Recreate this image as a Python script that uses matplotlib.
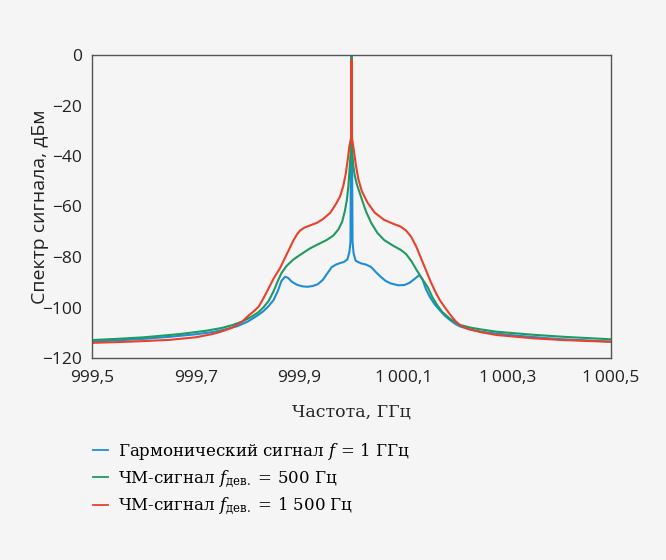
import matplotlib
matplotlib.use("Agg")
import matplotlib.pyplot as plt
from matplotlib.ticker import FixedLocator, FixedFormatter

# ---- data ----
blue_x = [999.50, 999.55, 999.60, 999.65, 999.70, 999.73, 999.75, 999.78, 999.80, 999.82,
          999.83, 999.84, 999.85, 999.858, 999.865, 999.872, 999.878, 999.885, 999.895, 999.905,
          999.915, 999.925, 999.935, 999.945, 999.955, 999.962, 999.97, 999.978, 999.985, 999.992,
          999.996, 999.998, 1000.000, 1000.002, 1000.004, 1000.008, 1000.018, 1000.028, 1000.038,
          1000.047, 1000.057, 1000.066, 1000.076, 1000.09, 1000.102, 1000.112, 1000.122, 1000.131,
          1000.137, 1000.143, 1000.15, 1000.16, 1000.171, 1000.18, 1000.19, 1000.20, 1000.209,
          1000.23, 1000.25, 1000.30, 1000.35, 1000.40, 1000.45, 1000.50]
blue_y = [-113.5, -113.0, -112.4, -111.6, -110.6, -109.8, -109.0, -107.4, -105.6, -103.0,
          -101.5, -99.5, -97.0, -93.5, -89.5, -87.8, -88.3, -89.8, -91.0, -91.6,
          -91.8, -91.5, -90.8, -89.0, -86.0, -84.0, -83.0, -82.4, -82.0, -81.0,
          -78.0, -74.0, 0.0, -74.0, -78.5, -81.5, -82.5, -83.0, -84.0,
          -86.0, -88.0, -89.5, -90.5, -91.2, -91.1, -90.2, -88.6, -87.1,
          -89.0, -92.5, -95.5, -98.7, -101.3, -103.3, -105.0, -106.5, -107.5,
          -108.8, -109.6, -110.8, -111.7, -112.5, -113.0, -113.5]

green_x = [999.50, 999.55, 999.60, 999.67, 999.72, 999.75, 999.77, 999.79, 999.80, 999.81,
           999.82, 999.83, 999.84, 999.85, 999.858, 999.865, 999.875, 999.888, 999.90, 999.92,
           999.935, 999.952, 999.965, 999.975, 999.982, 999.987, 999.991, 999.994, 999.996,
           999.998, 999.999, 1000.000, 1000.001, 1000.003, 1000.006, 1000.010, 1000.018,
           1000.028, 1000.038, 1000.050, 1000.063, 1000.080, 1000.095, 1000.105, 1000.115,
           1000.125, 1000.135, 1000.147, 1000.156, 1000.165, 1000.175, 1000.19, 1000.209,
           1000.23, 1000.25, 1000.28, 1000.35, 1000.408, 1000.50]
green_y = [-112.9, -112.4, -111.8, -110.5, -109.2, -108.1, -107.0, -105.5, -104.5, -103.3,
           -102.0, -100.0, -97.5, -93.5, -89.5, -86.4, -83.5, -81.0, -79.3, -76.6,
           -75.0, -73.3, -71.5, -69.0, -66.0, -62.0, -57.5, -52.0, -46.0,
           -40.0, -37.0, -1.0, -37.0, -43.0, -47.5, -51.0, -56.0,
           -62.0, -66.5, -70.5, -73.3, -75.5, -77.2, -78.8, -81.5,
           -85.0, -88.3, -92.0, -96.0, -99.0, -101.8, -104.5, -106.9,
           -108.0, -108.7, -109.6, -110.8, -111.6, -112.6]

red_x = [999.50, 999.55, 999.60, 999.65, 999.70, 999.73, 999.75, 999.77, 999.79, 999.80,
         999.81, 999.821, 999.83, 999.84, 999.85, 999.862, 999.875, 999.888, 999.895, 999.901,
         999.91, 999.92, 999.933, 999.945, 999.959, 999.97, 999.978, 999.984, 999.989, 999.993,
         999.996, 999.999, 1000.000, 1000.001, 1000.004, 1000.008, 1000.013, 1000.020,
         1000.031, 1000.045, 1000.063, 1000.080, 1000.095, 1000.105, 1000.115, 1000.125,
         1000.134, 1000.144, 1000.153, 1000.162, 1000.170, 1000.180, 1000.190, 1000.200,
         1000.210, 1000.225, 1000.25, 1000.28, 1000.35, 1000.408, 1000.50]
red_y = [-114.0, -113.7, -113.3, -112.8, -111.8, -110.6, -109.5, -108.0, -105.5, -103.5,
         -101.8, -99.7, -96.5, -92.5, -88.5, -84.5, -79.0, -73.5, -71.0, -69.5,
         -68.3, -67.5, -66.5, -65.0, -62.5, -59.0, -56.0, -52.0, -47.0, -41.0,
         -36.0, -33.0, -2.0, -33.0, -37.0, -43.0, -49.0, -54.0,
         -58.5, -62.5, -65.3, -66.8, -68.0, -69.5, -72.0, -76.0,
         -80.5, -85.5, -90.0, -94.0, -97.0, -100.0, -102.8, -105.3,
         -107.2, -108.5, -109.8, -110.9, -112.2, -112.9, -113.6]

labels = ["Гармонический сигнал $f$ = 1 ГГц",
          "ЧМ-сигнал $f_{\\mathrm{дев.}}$ = 500 Гц",
          "ЧМ-сигнал $f_{\\mathrm{дев.}}$ = 1 500 Гц"]

x_ticks = [999.5, 999.7, 999.9, 1000.1, 1000.3, 1000.5]
x_tick_labels = ["999,5", "999,7", "999,9", "1\u2009000,1", "1\u2009000,3", "1\u2009000,5"]
y_ticks = [0, -20, -40, -60, -80, -100, -120]
y_tick_labels = ["0", "\u221220", "\u221240", "\u221260", "\u221280", "\u2212100", "\u2212120"]

# ---- style ----
plt.rcParams['mathtext.fontset'] = 'custom'
plt.rcParams['mathtext.rm'] = 'DejaVu Serif'
plt.rcParams['mathtext.it'] = 'DejaVu Serif:italic'

bg = "#f5f5f5"
c_blue = "#1f8dd6"
c_green = "#1f9a60"
c_red = "#e8412c"

fig = plt.figure(figsize=(6.66, 5.60), dpi=100, facecolor=bg)
ax = fig.add_axes([92/666, 1-358/560, (611-92)/666, (358-55)/560])
ax.set_facecolor(bg)

ax.plot(blue_x, blue_y, color=c_blue, lw=1.5, label=labels[0])
ax.plot(green_x, green_y, color=c_green, lw=1.5, label=labels[1])
ax.plot(red_x, red_y, color=c_red, lw=1.5, label=labels[2])

ax.set_xlim(999.5, 1000.5)
ax.set_ylim(-120, 0)
ax.xaxis.set_major_locator(FixedLocator(x_ticks))
ax.xaxis.set_major_formatter(FixedFormatter(x_tick_labels))
ax.yaxis.set_major_locator(FixedLocator(y_ticks))
ax.yaxis.set_major_formatter(FixedFormatter(y_tick_labels))
ax.tick_params(length=0, labelsize=12.5, colors="#222222")
ax.tick_params(axis="x", pad=9)
ax.tick_params(axis="y", pad=7)
for lab in ax.get_xticklabels() + ax.get_yticklabels():
    lab.set_family(["Open Sans", "DejaVu Sans"])

for s in ax.spines.values():
    s.set_color("#555555")
    s.set_linewidth(1.0)

ax.set_xlabel("Частота, ГГц", family="DejaVu Serif", fontsize=12.5, color="#222222", labelpad=12)
ax.set_ylabel("Спектр сигнала, дБм", family="Open Sans", fontsize=14, color="#222222", labelpad=-4.5)

h, l = ax.get_legend_handles_labels()
leg = fig.legend(h, l, loc="upper left", bbox_to_anchor=(78/666, 1-426/560),
                 frameon=False, handlelength=0.9, handletextpad=0.6, labelspacing=0.35,
                 prop={"family": "DejaVu Serif", "size": 12})
for line in leg.get_lines():
    line.set_linewidth(1.3)

fig.savefig("out.png", dpi=100, facecolor=bg)
